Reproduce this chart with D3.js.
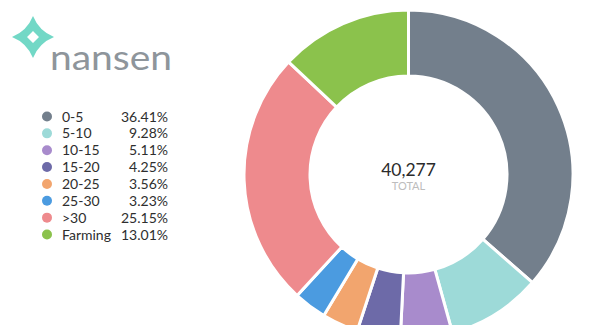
<!DOCTYPE html>
<html>
<head>
<meta charset="utf-8">
<script src="https://cdn.jsdelivr.net/npm/d3@7"></script>
<style>
  html, body { margin: 0; padding: 0; background: #fff; }
  svg { display: block; font-family: Lato, "Open Sans", sans-serif; }
</style>
</head>
<body>
<svg id="chart" width="600" height="325"></svg>
<script>
// Share of wallets by bucket
const categories = ["0-5", "5-10", "10-15", "15-20", "20-25", "25-30", ">30", "Farming"];
const shares = [36.41, 9.28, 5.11, 4.25, 3.56, 3.23, 25.15, 13.01];
const colors = ["#737f8c", "#9ddad8", "#a88bcc", "#6d6aa8", "#f2a56e", "#4b9be0", "#ee8a8d", "#8bc24c"];
const totalLabel = "40,277";

const svg = d3.select("#chart");

// Brand mark: four-pointed star with a diamond cut-out
const logo = svg.append("g").attr("transform", "translate(33,37)");
const star = d3.path();
const R = 21, c = 6;
star.moveTo(0, -R);
star.quadraticCurveTo(c, -c, R, 0);
star.quadraticCurveTo(c, c, 0, R);
star.quadraticCurveTo(-c, c, -R, 0);
star.quadraticCurveTo(-c, -c, 0, -R);
star.closePath();
const h = 6;
star.moveTo(0, -h);
star.lineTo(-h, 0);
star.lineTo(0, h);
star.lineTo(h, 0);
star.closePath();
logo.append("path")
  .attr("d", star.toString())
  .attr("fill", "#72d8c6")
  .attr("fill-rule", "evenodd");

svg.append("text")
  .attr("x", 50).attr("y", 70)
  .attr("textLength", 122)
  .attr("lengthAdjust", "spacingAndGlyphs")
  .attr("font-size", 35)
  .attr("font-family", "Lato, sans-serif")
  .attr("fill", "#8e959b")
  .text("nansen");

// Legend
const legend = svg.append("g");
const rowY = d3.scalePoint().domain(categories).range([116.5, 234.5]);
const rows = legend.selectAll("g.row").data(categories).join("g")
  .attr("class", "row")
  .attr("transform", d => `translate(0,${rowY(d)})`);
rows.append("circle")
  .attr("cx", 47).attr("cy", 0).attr("r", 5)
  .attr("fill", (d, i) => colors[i]);
rows.append("text")
  .attr("x", 62).attr("y", 5)
  .attr("font-size", 14)
  .attr("fill", "#2e2e2e")
  .text(d => d);
rows.append("text")
  .attr("x", 168).attr("y", 5)
  .attr("text-anchor", "end")
  .attr("font-size", 14)
  .attr("fill", "#2e2e2e")
  .text((d, i) => shares[i].toFixed(2) + "%");

// Donut
const cx = 408.5, cy = 174.5, outerR = 164.5, innerR = 98.5;
const pie = d3.pie().sort(null).value(d => d.value);
const arc = d3.arc().innerRadius(innerR).outerRadius(outerR);
const data = categories.map((k, i) => ({ key: k, value: shares[i], color: colors[i] }));

const donut = svg.append("g").attr("transform", `translate(${cx},${cy})`);
donut.selectAll("path").data(pie(data)).join("path")
  .attr("d", arc)
  .attr("fill", d => d.data.color)
  .attr("stroke", "#fff")
  .attr("stroke-width", 3)
  .attr("stroke-linejoin", "miter");

donut.append("text")
  .attr("x", 0).attr("y", 1)
  .attr("text-anchor", "middle")
  .attr("font-size", 17.5)
  .attr("fill", "#2b2b2b")
  .text(totalLabel);
donut.append("text")
  .attr("x", 0).attr("y", 15.5)
  .attr("text-anchor", "middle")
  .attr("font-size", 11)
  .attr("fill", "#bdbdbd")
  .text("TOTAL");
</script>
</body>
</html>
